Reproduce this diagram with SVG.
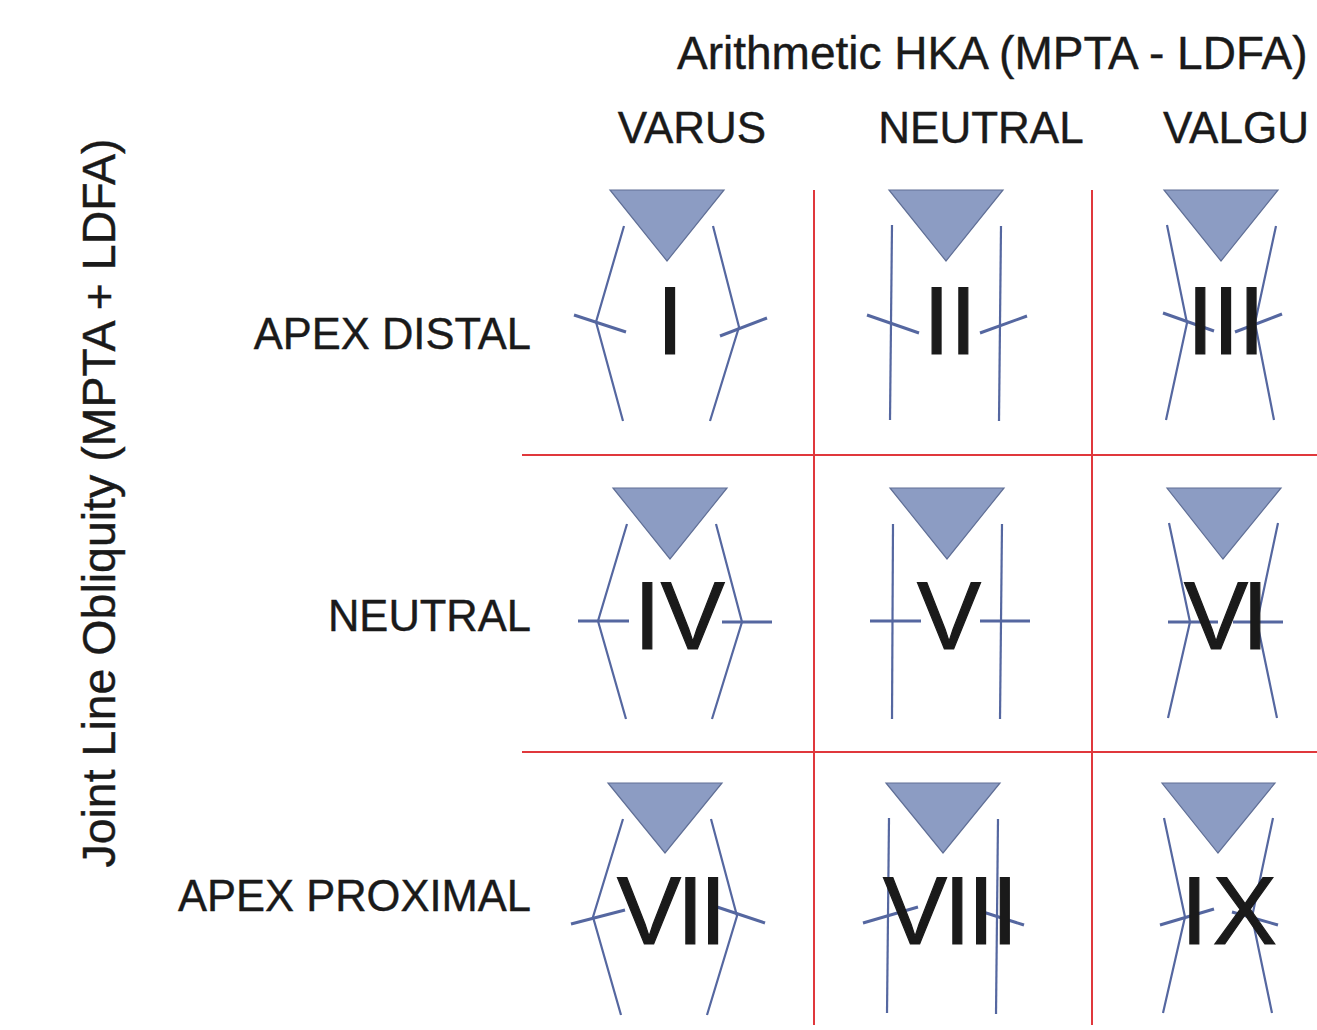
<svg xmlns="http://www.w3.org/2000/svg" width="1317" height="1030" viewBox="0 0 1317 1030">
  <style>
    .lbl { font-family: "Liberation Sans", Arial, sans-serif; fill: #1a1a1a; stroke: #1a1a1a; stroke-width: 0.4; }
    .hdr { font-size: 44px; }
    .row { font-size: 43.5px; text-anchor: end; }
    .num { font-family: "Liberation Sans", Arial, sans-serif; fill: #1a1a1a; stroke: #1a1a1a; stroke-width: 1.2; font-size: 96px; }
    .tri { fill: #8c9cc3; stroke: #606f96; stroke-width: 1.2; stroke-linejoin: miter; }
    .bone { fill: none; stroke: #5567a0; stroke-width: 2.2; stroke-linejoin: miter; }
    .tick { fill: none; stroke: #5567a0; stroke-width: 3; stroke-linecap: butt; }
    .grid line { stroke: #e0383c; stroke-width: 2; }
  </style>
  <rect width="1317" height="1030" fill="#ffffff"/>

  <!-- axis titles and headers -->
  <g id="axis-labels">
    <text class="lbl" x="677" y="69" font-size="46">Arithmetic HKA (MPTA - LDFA)</text>
    <text class="lbl hdr" x="692" y="143" text-anchor="middle">VARUS</text>
    <text class="lbl hdr" x="981" y="143" text-anchor="middle">NEUTRAL</text>
    <text class="lbl hdr" x="1163" y="143" font-size="45.5">VALGU</text>
    <text class="lbl row" x="531" y="349">APEX DISTAL</text>
    <text class="lbl row" x="531" y="631">NEUTRAL</text>
    <text class="lbl row" x="531" y="911">APEX PROXIMAL</text>
    <text class="lbl" font-size="46.5" text-anchor="middle" transform="translate(115,503) rotate(-90)">Joint Line Obliquity (MPTA + LDFA)</text>
  </g>

  <!-- red grid separating the nine types -->
  <g id="connectors" class="grid">
    <line x1="814" y1="190" x2="814" y2="1025"/>
    <line x1="1092" y1="190" x2="1092" y2="1025"/>
    <line x1="522" y1="455" x2="1317" y2="455"/>
    <line x1="522" y1="752" x2="1317" y2="752"/>
  </g>

  <!-- Row 1: apex distal -->
  <g id="type-I">
    <polygon class="tri" points="610,190 724,190 667,261"/>
    <polyline class="bone" points="624,226 596,322 623,421"/>
    <polyline class="bone" points="713,226 739,327 710,421"/>
    <line class="tick" x1="574" y1="315" x2="626" y2="332"/>
    <line class="tick" x1="720" y1="336" x2="767" y2="318"/>
    <text class="num" x="670" y="354" text-anchor="middle">I</text>
  </g>
  <g id="type-II">
    <polygon class="tri" points="889,190 1003,190 946,261"/>
    <polyline class="bone" points="892,225 890,420"/>
    <polyline class="bone" points="1001,226 999,421"/>
    <line class="tick" x1="867" y1="315" x2="919" y2="333"/>
    <line class="tick" x1="980" y1="333" x2="1027" y2="316"/>
    <text class="num" x="950" y="354" text-anchor="middle">II</text>
  </g>
  <g id="type-III">
    <polygon class="tri" points="1164,190 1278,190 1221,261"/>
    <polyline class="bone" points="1167,225 1187,323 1166,420"/>
    <polyline class="bone" points="1276,226 1255,323 1274,420"/>
    <line class="tick" x1="1163" y1="313" x2="1214" y2="331"/>
    <line class="tick" x1="1235" y1="332" x2="1282" y2="314"/>
    <text class="num" x="1187" y="354" letter-spacing="-1">III</text>
  </g>

  <!-- Row 2: neutral joint line -->
  <g id="type-IV">
    <polygon class="tri" points="613,488 727,488 670,559"/>
    <polyline class="bone" points="627,524 598,621 626,719"/>
    <polyline class="bone" points="716,524 742,622 712,719"/>
    <line class="tick" x1="578" y1="621" x2="629" y2="621"/>
    <line class="tick" x1="722" y1="622" x2="772" y2="622"/>
    <text class="num" x="634" y="649">IV</text>
  </g>
  <g id="type-V">
    <polygon class="tri" points="890,488 1004,488 947,559"/>
    <polyline class="bone" points="893,524 892,719"/>
    <polyline class="bone" points="1002,524 1000,719"/>
    <line class="tick" x1="870" y1="621" x2="921" y2="621"/>
    <line class="tick" x1="980" y1="621" x2="1030" y2="621"/>
    <text class="num" x="949" y="649" text-anchor="middle">V</text>
  </g>
  <g id="type-VI">
    <polygon class="tri" points="1167,488 1281,488 1223,559"/>
    <polyline class="bone" points="1169,523 1190,622 1168,718"/>
    <polyline class="bone" points="1278,523 1257,622 1277,718"/>
    <line class="tick" x1="1168" y1="622" x2="1218" y2="622"/>
    <line class="tick" x1="1233" y1="622" x2="1283" y2="622"/>
    <text class="num" x="1184" y="649" letter-spacing="-6">VI</text>
  </g>

  <!-- Row 3: apex proximal -->
  <g id="type-VII">
    <polygon class="tri" points="608,783 722,783 665,853"/>
    <polyline class="bone" points="623,819 593,917 621,1015"/>
    <polyline class="bone" points="711,819 737,916 707,1015"/>
    <line class="tick" x1="571" y1="924" x2="625" y2="910"/>
    <line class="tick" x1="717" y1="907" x2="765" y2="923"/>
    <text class="num" x="617" y="944" letter-spacing="-4">VII</text>
  </g>
  <g id="type-VIII">
    <polygon class="tri" points="886,783 1000,783 943,853"/>
    <polyline class="bone" points="889,818 887,1013"/>
    <polyline class="bone" points="998,819 996,1014"/>
    <line class="tick" x1="863" y1="923" x2="918" y2="907"/>
    <line class="tick" x1="983" y1="912" x2="1024" y2="925"/>
    <text class="num" x="883" y="944" letter-spacing="-3">VIII</text>
  </g>
  <g id="type-IX">
    <polygon class="tri" points="1162,783 1275,783 1218,853"/>
    <polyline class="bone" points="1164,818 1185,917 1163,1013"/>
    <polyline class="bone" points="1273,818 1252,917 1272,1013"/>
    <line class="tick" x1="1160" y1="925" x2="1214" y2="909"/>
    <line class="tick" x1="1232" y1="912" x2="1278" y2="925"/>
    <text class="num" x="1181" y="944" letter-spacing="5">IX</text>
  </g>
</svg>
